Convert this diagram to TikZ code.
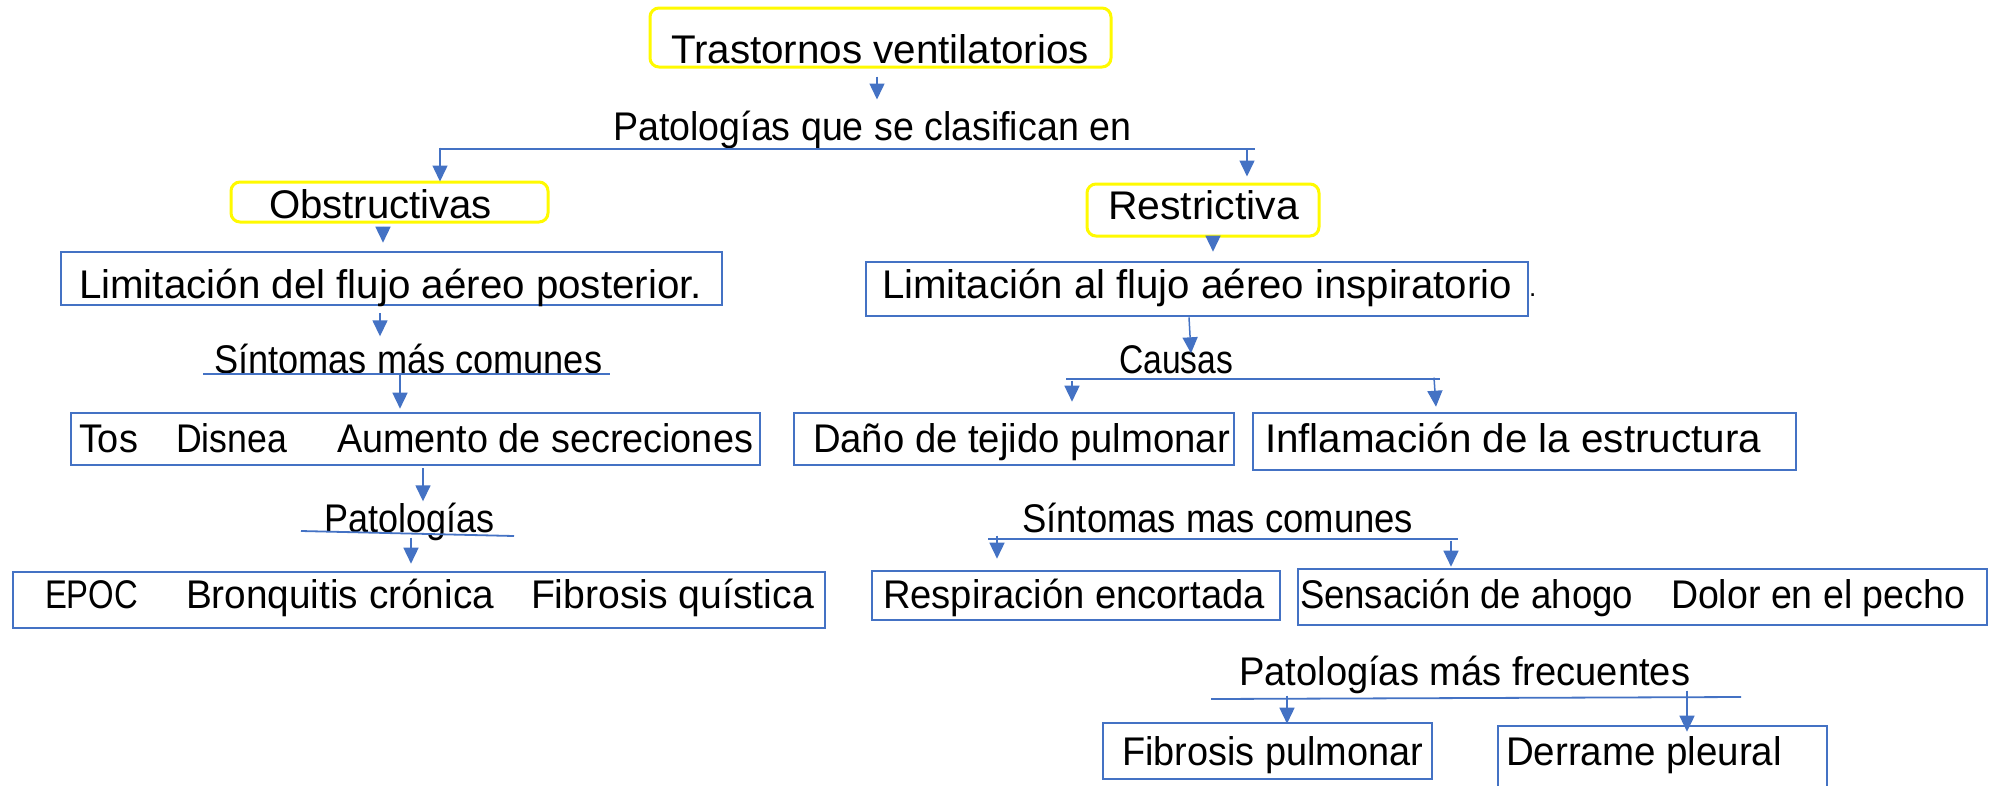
\documentclass[tikz,border=0pt]{standalone}
\usepackage{fontspec}
\setmainfont{Liberation Sans}
\usetikzlibrary{arrows.meta,calc}
\definecolor{myblue}{RGB}{68,114,196}
\definecolor{myyellow}{RGB}{255,250,0}
% fit a text to a measured width, keeping its height
\newcommand\fw[2]{\resizebox{#1pt}{\height}{#2}}
% place a word at an offset without advancing
\newcommand\wat[2]{\makebox[0pt][l]{\hspace*{#1pt}#2}}
% box: style, name, left, top, right, bottom, text left, baseline, content
\newcommand\mybox[9][bbox]{%
  \pgfmathsetmacro\bxcx{(#3+#5)/2}%
  \pgfmathsetmacro\bxcy{(#4+#6)/2}%
  \pgfmathsetmacro\bxw{#5-#3}%
  \pgfmathsetmacro\bxh{#6-#4}%
  \pgfmathsetmacro\bxpad{#7-#3}%
  \pgfmathsetmacro\bxth{max(2*(#8-\bxcy),0)}%
  \pgfmathsetmacro\bxtd{max(-2*(#8-\bxcy),0)}%
  \node[#1, minimum width=\bxw pt, minimum height=\bxh pt,
        text height=\bxth pt, text depth=\bxtd pt] (#2) at (\bxcx,\bxcy)
        {\makebox[\bxw pt][l]{\hspace*{\bxpad pt}#9}};%
}
\tikzset{
  ln/.style={draw=myblue, line width=1.8pt},
  arr/.style={draw=myblue, line width=1.5pt, -{Triangle[length=16pt,width=15pt]}},
  bbox/.style={draw=myblue, line width=2.6pt, rectangle, inner sep=0pt},
  ybox/.style={draw=myyellow, line width=3pt, rectangle, rounded corners=9pt, inner sep=0pt},
  lab/.style={inner sep=0pt, anchor=base west},
}
\begin{document}
\begin{tikzpicture}[x=1pt,y=-1pt,font=\fontsize{40}{48}\selectfont]
\clip (0,0) rectangle (1989,785);
\fill[white] (0,0) rectangle (1989,785);

% ---------- boxes ----------
\mybox[ybox]{top}{650}{8}{1111}{67}{671}{63}{\fw{418}{Trastornos ventilatorios}}
\mybox[ybox]{obs}{231}{182}{548}{222}{269}{218}{\fw{223}{Obstructivas}}
\mybox[ybox]{res}{1087}{184}{1319}{236}{1108}{219}{\fw{191}{Restrictiva}}
\mybox{limo}{61}{252}{722}{305}{79}{298}{\fw{623}{Limitación del flujo aéreo posterior.}}
\mybox{limr}{866}{262}{1528}{316}{882}{298}{\fw{630}{Limitación al flujo aéreo inspiratorio}}
\mybox{sint}{71}{413}{760}{465}{79}{452}{\wat{0}{\fw{59}{Tos}}\wat{97}{\fw{111}{Disnea}}\wat{258}{\fw{416}{Aumento de secreciones}}}
\mybox{epoc}{13}{572}{825}{628}{45}{608}{\wat{0}{\fw{93}{EPOC}}\wat{141}{\fw{308}{Bronquitis crónica}}\wat{486}{\fw{283}{Fibrosis quística}}}
\mybox{dano}{794}{413}{1234}{465}{813}{452}{\fw{417}{Daño de tejido pulmonar}}
\mybox{infl}{1253}{413}{1796}{470}{1265}{452}{\fw{496}{Inflamación de la estructura}}
\mybox{resp}{872}{571}{1280}{620}{883}{608}{\fw{382}{Respiración encortada}}
\mybox{sens}{1298}{569}{1987}{625}{1300}{608}{\wat{0}{\fw{333}{Sensación de ahogo}}\wat{371}{\fw{294}{Dolor en el pecho}}}
\mybox{fibr}{1103}{723}{1432}{779}{1122}{765}{\fw{301}{Fibrosis pulmonar}}
\mybox{derr}{1498}{726}{1827}{810}{1506}{765}{\fw{276}{Derrame pleural}}

% ---------- free labels ----------
\node[lab] (l1) at (613,140) {\fw{518}{Patologías que se clasifican en}};
\node[lab] (l2) at (214,373) {\fw{388}{Síntomas más comunes}};
\node[lab] (l3) at (324,532) {\fw{170}{Patologías}};
\node[lab] (l4) at (1119,373) {\fw{114}{Causas}};
\node[lab] (l5) at (1022,532) {\fw{391}{Síntomas mas comunes}};
\node[lab] (l6) at (1239,685) {\fw{451}{Patologías más frecuentes}};
\node[lab, font=\fontsize{26}{30}\selectfont] (dot) at (1529,296) {.};

% ---------- bars ----------
\coordinate (b1a) at (439,149);  \coordinate (b1b) at (1255,149);
\coordinate (b2a) at (203,374);  \coordinate (b2b) at (610,374);
\coordinate (b3a) at (301,531);  \coordinate (b3b) at (514,536);
\coordinate (b4a) at (1066,379); \coordinate (b4b) at (1440,379);
\coordinate (b5a) at (988,539);  \coordinate (b5b) at (1458,539);
\coordinate (b6a) at (1211,699); \coordinate (b6b) at (1741,697);
\draw[ln] (b1a) -- (b1b);
\draw[ln] (b2a) -- (b2b);
\draw[ln] (b3a) -- (b3b);
\draw[ln] (b4a) -- (b4b);
\draw[ln] (b5a) -- (b5b);
\draw[ln] (b6a) -- (b6b);

% ---------- arrows ----------
\draw[arr] ($(top.south)+(-3.5,8)$) -- ($(top.south)+(-3.5,31)$);
\draw[arr] ($(obs.north)+(50.5,-33)$) -- ($(obs.north)+(50.5,1)$);
\draw[arr] ($(res.north)+(44,-34)$) -- ($(res.north)+(44,-6)$);
\draw[arr] ($(obs.south)+(-6.5,3)$) -- ($(limo.north -| obs.south)+(-6.5,-8)$);
\draw[arr] ($(limo.south)+(-11.5,7)$) -- ($(limo.south)+(-11.5,30)$);
\draw[arr] ($(sint.north)+(-15.5,-39)$) -- ($(sint.north)+(-15.5,-3)$);
\draw[arr] ($(sint.south)+(7.5,2)$) -- ($(sint.south)+(7.5,35)$);
\draw[arr] ($(epoc.north)+(-8,-33)$) -- ($(epoc.north)+(-8,-7)$);
\draw[arr] ($(res.south)+(10,2)$) -- ($(limr.north -| res.south)+(10,-9)$);
\draw[arr] ($(limr.south)+(-8,0)$) -- ($(limr.south)+(-6,36)$);
\draw[arr] ($(dano.north)+(58,-31)$) -- ($(dano.north)+(58,-10)$);
\draw[arr] ($(infl.north)+(-90.5,-34)$) -- ($(infl.north)+(-88.5,-5)$);
\draw[arr] ($(resp.north)+(-79,-34)$) -- ($(resp.north)+(-79,-11)$);
\draw[arr] ($(sens.north)+(-191.5,-27)$) -- ($(sens.north)+(-191.5,-1)$);
\draw[arr] ($(fibr.north)+(19.5,-26)$) -- ($(fibr.north)+(19.5,2)$);
\draw[arr] ($(derr.north)+(24.5,-34)$) -- ($(derr.north)+(24.5,7)$);
\end{tikzpicture}
\end{document}
